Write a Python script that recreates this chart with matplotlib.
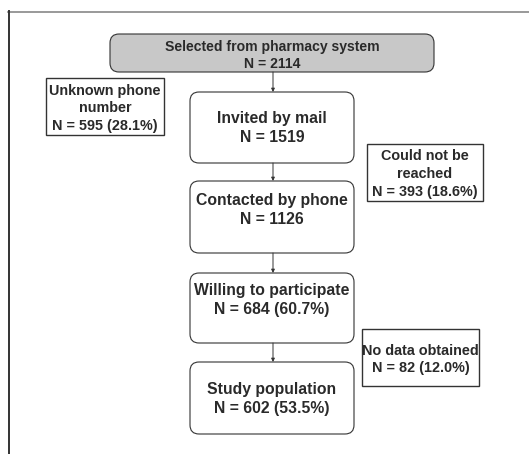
import matplotlib.pyplot as plt
from matplotlib.patches import FancyBboxPatch, Rectangle

plt.rcParams['font.family'] = ['Liberation Sans', 'DejaVu Sans']

# flow steps (main column)
main_labels = ["Selected from pharmacy system", "Invited by mail", "Contacted by phone",
               "Willing to participate", "Study population"]
main_n = ["N = 2114", "N = 1519", "N = 1126", "N = 684 (60.7%)", "N = 602 (53.5%)"]

# exclusions (side boxes)
side_labels = ["Unknown phone\nnumber", "Could not be\nreached", "No data obtained"]
side_n = ["N = 595 (28.1%)", "N = 393 (18.6%)", "N = 82 (12.0%)"]

# layout in pixels: (x0, y0, x1, y1) and text centre y
main_boxes = [(110, 34, 434, 72), (190, 92, 354, 163), (190, 181, 354, 253),
              (190, 273, 354, 343), (190, 362, 354, 434)]
main_text_y = [55.5, 128, 210, 300, 399]
side_boxes = [(46, 78, 164, 135), (367, 144, 483, 201), (362, 329, 479, 386)]
side_text_y = [108.5, 174, 359.5]

W, H = 529, 454
fig = plt.figure(figsize=(W / 100, H / 100), dpi=100)
ax = fig.add_axes([0, 0, 1, 1])
ax.set_xlim(0, W)
ax.set_ylim(H, 0)
ax.axis('off')

tc = '#2a2a2a'
lw = 0.8

# outer frame (top and left edges only)
ax.plot([8, W], [11.5, 11.5], color='#888888', lw=1.2)
ax.plot([8.5, 8.5], [11, H], color='#333333', lw=1.4)

for i, (lab, n) in enumerate(zip(main_labels, main_n)):
    x0, y0, x1, y1 = main_boxes[i]
    fc = '#c8c8c8' if i == 0 else 'white'
    ax.add_patch(FancyBboxPatch((x0, y0), x1 - x0, y1 - y0,
                                boxstyle="round,pad=0,rounding_size=9",
                                fc=fc, ec='#333333', lw=lw))
    cx = (x0 + x1) / 2
    if i == 0:
        ax.text(cx, main_text_y[i], lab + "\n" + n, ha='center', va='center',
                fontsize=10.1, fontweight='bold', color=tc, linespacing=1.2)
    else:
        ax.text(cx, main_text_y[i], lab + "\n" + n, ha='center', va='center',
                fontsize=11.3, fontweight='bold', color=tc, linespacing=1.38)
    if i < len(main_labels) - 1:
        nx = main_boxes[i + 1]
        ax.annotate("", xy=(273, nx[1]), xytext=(273, y1),
                    arrowprops=dict(arrowstyle='-|>', color='#333333', lw=0.7,
                                    mutation_scale=5, shrinkA=0, shrinkB=0))

for i, (lab, n) in enumerate(zip(side_labels, side_n)):
    x0, y0, x1, y1 = side_boxes[i]
    ax.add_patch(Rectangle((x0, y0), x1 - x0, y1 - y0, fc='white',
                           ec='#333333', lw=1.0))
    ax.text((x0 + x1) / 2, side_text_y[i], lab + "\n" + n, ha='center',
            va='center', fontsize=10.4, fontweight='bold', color=tc,
            linespacing=1.32)

fig.savefig('out.png', dpi=100)
